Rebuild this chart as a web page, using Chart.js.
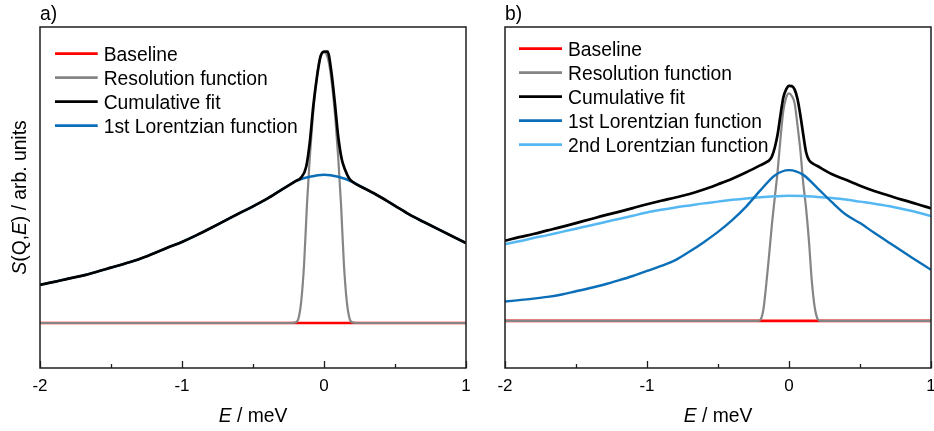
<!DOCTYPE html>
<html>
<head>
<meta charset="utf-8">
<script src="https://cdn.jsdelivr.net/npm/chart.js@4.4.1/dist/chart.umd.min.js"></script>
<style>
  html, body { margin: 0; padding: 0; background: #fff; overflow: hidden; width: 934px; height: 431px; }
  #wrap { position: relative; width: 934px; height: 431px; overflow: hidden; }
  canvas { position: absolute; top: 0; }
  #panelA { left: 0; }
  #panelB { left: 467px; }
</style>
</head>
<body>
<div id="wrap">
  <canvas id="panelA" width="487" height="431"></canvas>
  <canvas id="panelB" width="485" height="431"></canvas>
</div>
<script>
// ---- energy grids (meV) ----
const E_GRID = [-2.0, -1.9, -1.8, -1.7, -1.6, -1.5, -1.4, -1.3, -1.2, -1.1, -1.0,
                -0.9, -0.8, -0.7, -0.6, -0.5, -0.4, -0.3, -0.2, -0.1, 0.0,
                 0.1, 0.2, 0.3, 0.4, 0.5, 0.6, 0.7, 0.8, 0.9, 1.0];
const BASE_E = [-2.0, 1.0];
const BASE_S = [0, 0];
const MAJOR_TICKS = [-2, -1, 0, 1];

// ---- panel a ----
const lor1A = [0.129, 0.139, 0.150, 0.160, 0.173, 0.187, 0.201, 0.216, 0.235, 0.255, 0.274,
               0.296, 0.320, 0.345, 0.370, 0.394, 0.420, 0.450, 0.479, 0.494, 0.501,
               0.494, 0.477, 0.451, 0.425, 0.396, 0.367, 0.342, 0.318, 0.294, 0.270];

const cumE_A = [-2.0, -1.9, -1.8, -1.7, -1.6, -1.5, -1.4, -1.3, -1.2, -1.1, -1.0,
                -0.9, -0.8, -0.7, -0.6, -0.5, -0.4, -0.3, -0.2,
                -0.16, -0.125, -0.1, -0.075, -0.05, -0.025, 0, 0.025, 0.05, 0.075, 0.1, 0.125, 0.15, 0.175,
                 0.2, 0.3, 0.4, 0.5, 0.6, 0.7, 0.8, 0.9, 1.0];
const cumA = [0.129, 0.139, 0.150, 0.160, 0.173, 0.187, 0.201, 0.216, 0.235, 0.255, 0.274,
              0.296, 0.320, 0.345, 0.370, 0.394, 0.420, 0.450, 0.479,
              0.492, 0.529, 0.610, 0.735, 0.830, 0.900, 0.917, 0.917, 0.855, 0.750, 0.630, 0.553, 0.516, 0.490,
              0.477, 0.451, 0.425, 0.396, 0.367, 0.342, 0.318, 0.294, 0.270];

const resE_A = [-2.0, -0.24, -0.2, -0.18, -0.16, -0.14, -0.12, -0.1, -0.08, -0.06, -0.04, -0.02, 0,
                0.02, 0.04, 0.06, 0.08, 0.1, 0.12, 0.14, 0.16, 0.18, 0.2, 0.24, 1.0];
const resA = [0, 0, 0.002, 0.015, 0.075, 0.20, 0.40, 0.56, 0.69, 0.79, 0.865, 0.905, 0.915,
              0.905, 0.865, 0.79, 0.69, 0.56, 0.40, 0.20, 0.075, 0.015, 0.002, 0, 0];

// ---- panel b ----
const lor1B = [0.066, 0.071, 0.076, 0.082, 0.090, 0.101, 0.112, 0.124, 0.138, 0.153, 0.170,
               0.187, 0.207, 0.236, 0.268, 0.303, 0.343, 0.390, 0.445, 0.495, 0.513,
               0.497, 0.452, 0.405, 0.362, 0.333, 0.300, 0.268, 0.236, 0.205, 0.174];
const lor2B = [0.261, 0.271, 0.282, 0.292, 0.303, 0.314, 0.325, 0.336, 0.347, 0.358, 0.369,
               0.378, 0.386, 0.393, 0.400, 0.406, 0.412, 0.417, 0.421, 0.424, 0.426,
               0.425, 0.422, 0.418, 0.413, 0.406, 0.399, 0.391, 0.381, 0.370, 0.357];

const cumE_B = [-2.0, -1.9, -1.8, -1.7, -1.6, -1.5, -1.4, -1.3, -1.2, -1.1, -1.0,
                -0.9, -0.8, -0.7, -0.6, -0.5, -0.4, -0.3, -0.2,
                -0.16, -0.14, -0.12, -0.1, -0.08, -0.06, -0.04, -0.02, 0, 0.02, 0.04, 0.06, 0.08, 0.1, 0.12, 0.14, 0.16,
                 0.2, 0.3, 0.4, 0.5, 0.6, 0.7, 0.8, 0.9, 1.0];
const cumB = [0.273, 0.285, 0.296, 0.308, 0.320, 0.333, 0.346, 0.359, 0.371, 0.384, 0.397,
              0.409, 0.420, 0.432, 0.447, 0.465, 0.484, 0.506, 0.530,
              0.540, 0.546, 0.560, 0.590, 0.635, 0.700, 0.760, 0.788, 0.800, 0.799, 0.787, 0.755, 0.700, 0.635, 0.575, 0.548, 0.538,
              0.527, 0.500, 0.480, 0.460, 0.442, 0.427, 0.412, 0.398, 0.383];

const resE_B = [-2.0, -0.24, -0.22, -0.2, -0.18, -0.16, -0.14, -0.12, -0.1, -0.08, -0.06, -0.04, -0.02, 0,
                0.02, 0.04, 0.06, 0.08, 0.1, 0.12, 0.14, 0.16, 0.18, 0.2, 0.22, 0.24, 1.0];
const resB = [0, 0, 0, 0.005, 0.04, 0.125, 0.225, 0.33, 0.42, 0.51, 0.62, 0.715, 0.76, 0.774,
              0.765, 0.74, 0.665, 0.58, 0.47, 0.385, 0.275, 0.14, 0.05, 0.008, 0, 0, 0];

// ---- styling ----
const FONT_FAMILY = '"Liberation Sans", Arial, Helvetica, sans-serif';
const TEXT_SIZE = 19.3;
const COLORS = {
  base: '#ff0000',
  res: '#858585',
  cum: '#000000',
  lor1: '#0a6fb8',
  lor2: '#55b8f3'
};

Chart.defaults.font.family = FONT_FAMILY;
Chart.defaults.color = '#000';

const toPoints = (xs, ys) => xs.map((x, i) => ({ x: x, y: ys[i] }));
const isMajor = (v) => MAJOR_TICKS.some(m => Math.abs(m - v) < 1e-9);

// draws a run of text pieces, some in italics, centred on cx
function drawRich(ctx, pieces, cx, baseline) {
  const fonts = pieces.map(p => (p[1] ? 'italic ' : '') + TEXT_SIZE + 'px ' + FONT_FAMILY);
  const widths = pieces.map((p, i) => { ctx.font = fonts[i]; return ctx.measureText(p[0]).width; });
  let x = cx - widths.reduce((a, b) => a + b, 0) / 2;
  ctx.textAlign = 'left';
  ctx.textBaseline = 'alphabetic';
  pieces.forEach((p, i) => { ctx.font = fonts[i]; ctx.fillText(p[0], x, baseline); x += widths[i]; });
}

// box around the plotting area
const framePlugin = {
  id: 'frame',
  afterDatasetsDraw(chart) {
    const { ctx, chartArea: a } = chart;
    ctx.save();
    ctx.strokeStyle = '#1e1e1e';
    ctx.lineWidth = 1.5;
    ctx.strokeRect(a.left, a.top, a.right - a.left, a.bottom - a.top);
    ctx.restore();
  }
};

// legend placed inside the plotting area, top-left
const insetLegend = {
  id: 'insetLegend',
  afterDraw(chart, args, o) {
    const { ctx, chartArea: a } = chart;
    ctx.save();
    ctx.font = TEXT_SIZE + 'px ' + FONT_FAMILY;
    ctx.textAlign = 'left';
    ctx.textBaseline = 'alphabetic';
    chart.data.datasets.forEach((ds, i) => {
      const y = a.top + o.firstRow + i * o.rowStep;
      ctx.strokeStyle = ds.borderColor;
      ctx.lineWidth = 2.6;
      ctx.beginPath();
      ctx.moveTo(a.left + o.sampleStart, y);
      ctx.lineTo(a.left + o.sampleEnd, y);
      ctx.stroke();
      ctx.fillStyle = '#000';
      ctx.fillText(ds.label, a.left + o.textStart, y + 0.358 * TEXT_SIZE);
    });
    ctx.restore();
  }
};

// panel letter and axis captions
const captions = {
  id: 'captions',
  afterDraw(chart, args, o) {
    const { ctx, chartArea: a } = chart;
    ctx.save();
    ctx.fillStyle = '#000';
    ctx.font = TEXT_SIZE + 'px ' + FONT_FAMILY;
    ctx.textAlign = 'left';
    ctx.textBaseline = 'alphabetic';
    ctx.fillText(o.letter, a.left, 20);
    drawRich(ctx, o.xTitle, (a.left + a.right) / 2, 421.5);
    if (o.yTitle) {
      ctx.translate(26, (a.top + a.bottom) / 2);
      ctx.rotate(-Math.PI / 2);
      drawRich(ctx, o.yTitle, 0, 0);
    }
    ctx.restore();
  }
};

function line(label, xs, ys, color, width, order) {
  return {
    label: label,
    data: toPoints(xs, ys),
    borderColor: color,
    backgroundColor: color,
    borderWidth: width,
    pointRadius: 0,
    fill: false,
    cubicInterpolationMode: 'monotone',
    order: order
  };
}

function makePanel(id, datasets, yMin, pad, legendOpts, captionOpts) {
  return new Chart(document.getElementById(id), {
    type: 'line',
    data: { datasets: datasets },
    plugins: [framePlugin, insetLegend, captions],
    options: {
      responsive: false,
      maintainAspectRatio: false,
      animation: false,
      events: [],
      layout: { padding: pad },
      plugins: {
        legend: { display: false },
        tooltip: { enabled: false },
        insetLegend: legendOpts,
        captions: captionOpts
      },
      scales: {
        x: {
          type: 'linear',
          min: -2,
          max: 1,
          afterFit: (s) => { s.height = 63; },
          ticks: {
            stepSize: 0.5,
            autoSkip: false,
            maxRotation: 0,
            padding: 15,
            font: { size: 17 },
            color: '#000',
            callback: (v) => isMajor(v) ? String(Math.round(v)) : ''
          },
          grid: {
            drawOnChartArea: false,
            drawTicks: true,
            tickLength: -7,
            tickWidth: 1.3,
            tickColor: '#1e1e1e',
            tickBorderDash: (c) => (c.tick && isMajor(c.tick.value)) ? [] : [4, 40]
          },
          border: { display: false }
        },
        y: {
          display: false,
          min: yMin,
          max: 1
        }
      }
    }
  });
}

makePanel('panelA', [
  line('Baseline', BASE_E, BASE_S, COLORS.base, 2.7, 10),
  line('Resolution function', resE_A, resA, COLORS.res, 2.2, 8),
  line('Cumulative fit', cumE_A, cumA, COLORS.cum, 2.7, 0),
  line('1st Lorentzian function', E_GRID, lor1A, COLORS.lor1, 2.4, 5)
], -0.152, { left: 40, top: 27, right: 21, bottom: 0 },
  { firstRow: 26.6, rowStep: 24, sampleStart: 15, sampleEnd: 57.7, textStart: 63.7 },
  { letter: 'a)', xTitle: [['E', true], [' / meV', false]],
    yTitle: [['S', true], ['(Q,', false], ['E', true], [') / arb. units', false]] });

makePanel('panelB', [
  line('Baseline', BASE_E, BASE_S, COLORS.base, 2.7, 10),
  line('Resolution function', resE_B, resB, COLORS.res, 2.2, 8),
  line('Cumulative fit', cumE_B, cumB, COLORS.cum, 2.7, 0),
  line('1st Lorentzian function', E_GRID, lor1B, COLORS.lor1, 2.4, 5),
  line('2nd Lorentzian function', E_GRID, lor2B, COLORS.lor2, 2.5, 6)
], -0.16, { left: 38, top: 27, right: 21, bottom: 0 },
  { firstRow: 21.6, rowStep: 24, sampleStart: 14, sampleEnd: 57, textStart: 63 },
  { letter: 'b)', xTitle: [['E', true], [' / meV', false]], yTitle: null });
</script>
</body>
</html>
